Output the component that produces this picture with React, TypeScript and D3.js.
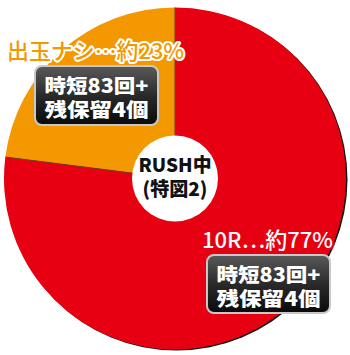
import React from "react";
import * as d3 from "d3";

const categories = ["出玉ナシ", "10R"];
const values = [23, 77];
const labels = ["出玉ナシ…約23%", "10R…約77%"];
const subLines = [["時短83回+", "残保留4個"], ["時短83回+", "残保留4個"]];
const centerLines = ["RUSH中", "(特図2)"];
const colors = ["#F39800", "#E60012"];

export default function App() {
  const W = 350, H = 355;
  const cx = 175, cy = 178.5, r = 171;
  const pie = d3.pie<number>().sort(null).startAngle(-2 * Math.PI * values[0] / 100).endAngle(2 * Math.PI - 2 * Math.PI * values[0] / 100);
  const arcs = pie(values);
  const arc = d3.arc<d3.PieArcDatum<number>>().innerRadius(0).outerRadius(r);
  const font = "'Noto Sans CJK JP', 'Noto Sans', sans-serif";

  const boxes = [
    { x: 35, y: 66, w: 123, h: 59 },
    { x: 207, y: 255, w: 123, h: 58 },
  ];
  const labelPos = [
    { x: 7, y: 59, len: 177, fill: "#F39800", stroke: "#fff" },
    { x: 202, y: 248, len: 131, fill: "#fff", stroke: "#E60012" },
  ];
  const centerLen = [73, 65];

  return (
    <svg width={W} height={H} style={{ position: "absolute", left: 0, top: 0 }}>
      <defs>
        <linearGradient id="boxg" x1="0" y1="0" x2="0" y2="1">
          <stop offset="0" stopColor="#5a5a5a" />
          <stop offset="0.5" stopColor="#2a2a2a" />
          <stop offset="1" stopColor="#0a0a0a" />
        </linearGradient>
      </defs>
      <rect width={W} height={H} fill="#fff" />
      <circle cx={cx + 1.5} cy={cy + 1} r={r} fill="#111" />
      <g transform={`translate(${cx},${cy})`}>
        {arcs.map((a, i) => (
          <path key={categories[i]} d={arc(a) || ""} fill={colors[i]} />
        ))}
        {arcs.map((a, i) => {
          const ang = a.startAngle;
          return (
            <line key={"l" + i} x1={0} y1={0} x2={r * Math.sin(ang)} y2={-r * Math.cos(ang)} stroke="#7a3a10" strokeWidth={1} />
          );
        })}
        <circle r={43} fill="#fff" />
        {centerLines.map((t, i) => (
          <text key={t} x={0} y={-7 + i * 24.5} textAnchor="middle" fontFamily={font} fontWeight={900} fontSize={19} fill="#111" textLength={centerLen[i]} lengthAdjust="spacingAndGlyphs">{t}</text>
        ))}
      </g>
      {labels.map((t, i) => (
        <text key={t} x={labelPos[i].x} y={labelPos[i].y} fontFamily={font} fontWeight={500} fontSize={21.5} fill={labelPos[i].fill} stroke={labelPos[i].stroke} strokeWidth={4} paintOrder="stroke" strokeLinejoin="round" textLength={labelPos[i].len} lengthAdjust="spacingAndGlyphs">{t}</text>
      ))}
      {boxes.map((b, i) => (
        <g key={"b" + i}>
          <rect x={b.x} y={b.y} width={b.w} height={b.h} rx={7} fill="url(#boxg)" stroke="#c8c8c8" strokeWidth={2} />
          {subLines[i].map((t, j) => (
            <text key={j} x={b.x + b.w / 2} y={b.y + 27 + j * 23.5} textAnchor="middle" fontFamily={font} fontWeight={900} fontSize={19.5} fill="#fff" textLength={104} lengthAdjust="spacingAndGlyphs">{t}</text>
          ))}
        </g>
      ))}
    </svg>
  );
}
